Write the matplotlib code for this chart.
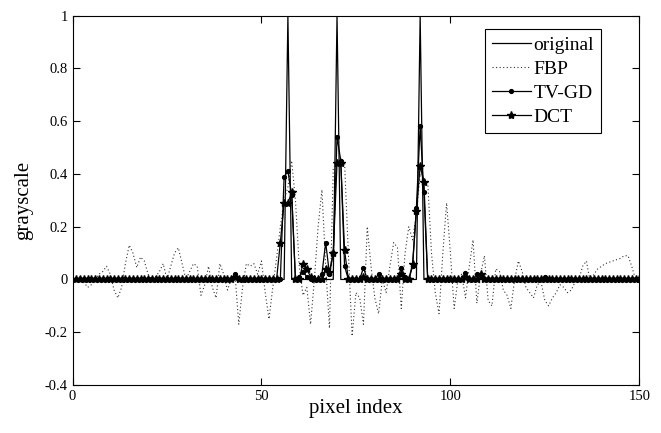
import matplotlib
matplotlib.use("Agg")
import matplotlib.pyplot as plt
import numpy as np

pixel_index = list(range(1, 151))

original = [
    0, 0, 0, 0, 0, 0, 0, 0, 0, 0,
    0, 0, 0, 0, 0, 0, 0, 0, 0, 0,
    0, 0, 0, 0, 0, 0, 0, 0, 0, 0,
    0, 0, 0, 0, 0, 0, 0, 0, 0, 0,
    0, 0, 0, 0, 0, 0, 0, 0, 0, 0,
    0, 0, 0, 0, 0, 0, 1, 0, 0, 0,
    0, 0, 0, 0, 0, 0, 0, 0, 0, 1,
    0, 0, 0, 0, 0, 0, 0, 0, 0, 0,
    0, 0, 0, 0, 0, 0, 0, 0, 0, 0,
    0, 1, 0, 0, 0, 0, 0, 0, 0, 0,
    0, 0, 0, 0, 0, 0, 0, 0, 0, 0,
    0, 0, 0, 0, 0, 0, 0, 0, 0, 0,
    0, 0, 0, 0, 0, 0, 0, 0, 0, 0,
    0, 0, 0, 0, 0, 0, 0, 0, 0, 0,
    0, 0, 0, 0, 0, 0, 0, 0, 0, 0,
]

fbp = [
    0.00, 0.01, -0.01, -0.03, -0.02, 0.00, 0.02, 0.03, 0.05, 0.02,
    -0.04, -0.07, -0.03, 0.06, 0.13, 0.10, 0.045, 0.085, 0.07, 0.02,
    0.00, 0.01, 0.03, 0.06, 0.00, 0.05, 0.10, 0.12, 0.06, 0.00,
    0.03, 0.06, 0.05, -0.06, -0.02, 0.05, -0.03, -0.07, 0.06, 0.02,
    -0.04, 0.00, 0.02, -0.17, -0.03, 0.06, 0.05, 0.06, 0.02, 0.07,
    -0.05, -0.15, -0.03, 0.08, 0.20, 0.30, 0.35, 0.45, 0.30, 0.05,
    -0.06, -0.03, -0.17, 0.00, 0.20, 0.34, 0.05, -0.185, 0.42, 0.45,
    0.46, 0.44, 0.10, -0.215, -0.05, -0.07, -0.17, 0.20, 0.05, -0.07,
    -0.13, 0.00, -0.05, 0.05, 0.14, 0.12, -0.11, 0.10, 0.20, 0.15,
    0.25, 0.40, 0.38, 0.37, 0.10, -0.05, -0.13, 0.10, 0.29, 0.10,
    -0.11, 0.00, 0.02, -0.07, 0.05, 0.15, -0.09, 0.02, 0.09, -0.08,
    -0.10, 0.04, 0.03, -0.04, -0.06, -0.11, 0.00, 0.07, 0.03, -0.03,
    -0.05, -0.07, -0.02, -0.01, -0.08, -0.10, -0.07, -0.05, -0.02, -0.03,
    -0.05, -0.04, -0.01, 0.00, 0.05, 0.07, -0.01, 0.02, 0.04, 0.05,
    0.06, 0.065, 0.07, 0.075, 0.08, 0.09, 0.09, 0.05, 0.00, 0.00,
]

tv_gd = [
    0.00, 0.00, 0.00, 0.00, 0.00, 0.00, 0.00, 0.00, 0.00, 0.00,
    0.00, 0.00, 0.00, 0.00, 0.00, 0.00, 0.00, 0.00, 0.00, 0.00,
    0.00, 0.00, 0.00, 0.00, 0.00, 0.00, 0.00, 0.00, 0.00, 0.00,
    0.00, 0.00, 0.00, 0.00, 0.00, 0.00, 0.00, 0.00, 0.00, 0.00,
    0.00, 0.00, 0.02, 0.00, 0.00, 0.00, 0.00, 0.00, 0.00, 0.00,
    0.00, 0.00, 0.00, 0.00, 0.00, 0.39, 0.41, 0.32, 0.00, 0.01,
    0.03, 0.01, 0.00, 0.00, 0.00, 0.02, 0.14, 0.02, 0.10, 0.54,
    0.45, 0.05, 0.00, 0.00, 0.00, 0.00, 0.045, 0.00, 0.00, 0.00,
    0.02, 0.00, 0.00, 0.00, 0.00, 0.00, 0.045, 0.01, 0.00, 0.05,
    0.27, 0.58, 0.33, 0.00, 0.00, 0.00, 0.00, 0.00, 0.00, 0.00,
    0.00, 0.00, 0.00, 0.025, 0.00, 0.00, 0.02, 0.015, 0.00, 0.00,
    0.00, 0.00, 0.00, 0.00, 0.00, 0.00, 0.00, 0.00, 0.00, 0.00,
    0.00, 0.00, 0.00, 0.00, 0.01, 0.00, 0.00, 0.00, 0.00, 0.00,
    0.00, 0.00, 0.00, 0.00, 0.00, 0.00, 0.00, 0.00, 0.00, 0.00,
    0.00, 0.00, 0.00, 0.00, 0.00, 0.00, 0.00, 0.00, 0.00, 0.00,
]

dct = [
    0.00, 0.00, 0.00, 0.00, 0.00, 0.00, 0.00, 0.00, 0.00, 0.00,
    0.00, 0.00, 0.00, 0.00, 0.00, 0.00, 0.00, 0.00, 0.00, 0.00,
    0.00, 0.00, 0.00, 0.00, 0.00, 0.00, 0.00, 0.00, 0.00, 0.00,
    0.00, 0.00, 0.00, 0.00, 0.00, 0.00, 0.00, 0.00, 0.00, 0.00,
    0.00, 0.00, 0.01, 0.00, 0.00, 0.00, 0.00, 0.00, 0.00, 0.00,
    0.00, 0.00, 0.00, 0.00, 0.14, 0.29, 0.29, 0.33, 0.00, 0.00,
    0.06, 0.04, 0.01, 0.00, 0.00, 0.00, 0.04, 0.03, 0.10, 0.44,
    0.44, 0.11, 0.00, 0.00, 0.00, 0.00, 0.01, 0.00, 0.00, 0.00,
    0.00, 0.00, 0.00, 0.00, 0.00, 0.00, 0.02, 0.00, 0.00, 0.06,
    0.26, 0.43, 0.37, 0.00, 0.00, 0.00, 0.00, 0.00, 0.00, 0.00,
    0.00, 0.00, 0.00, 0.01, 0.00, 0.00, 0.00, 0.02, 0.00, 0.00,
    0.00, 0.00, 0.00, 0.00, 0.00, 0.00, 0.00, 0.00, 0.00, 0.00,
    0.00, 0.00, 0.00, 0.00, 0.00, 0.00, 0.00, 0.00, 0.00, 0.00,
    0.00, 0.00, 0.00, 0.00, 0.00, 0.00, 0.00, 0.00, 0.00, 0.00,
    0.00, 0.00, 0.00, 0.00, 0.00, 0.00, 0.00, 0.00, 0.00, 0.00,
]

x_ticks = [0, 50, 100, 150]
y_ticks = [-0.4, -0.2, 0, 0.2, 0.4, 0.6, 0.8, 1]
y_tick_labels = ["-0.4", "-0.2", "0", "0.2", "0.4", "0.6", "0.8", "1"]

plt.rcParams['font.family'] = ['Liberation Serif', 'DejaVu Serif']

fig = plt.figure(figsize=(6.61, 4.33), dpi=100)
ax = fig.add_axes([0.1097, 0.1109, 0.8575, 0.853])

ax.plot(pixel_index, original, color='black', linewidth=0.9, label='original')
ax.plot(pixel_index, fbp, color='#333333', linewidth=0.8, linestyle=(0, (1, 2.2)), label='FBP')
ax.plot(pixel_index, tv_gd, color='black', linewidth=0.9, marker='.', markersize=5.5, label='TV-GD')
ax.plot(pixel_index, dct, color='black', linewidth=0.9, marker='*', markersize=6, label='DCT')

ax.set_xlim(0, 150)
ax.set_ylim(-0.4, 1)
ax.set_xticks(x_ticks)
ax.set_xticklabels([str(v) for v in x_ticks])
ax.set_yticks(y_ticks)
ax.set_yticklabels(y_tick_labels)
ax.tick_params(direction='in', top=True, right=True, labelsize=10.5, length=5, width=0.8)
for s in ax.spines.values():
    s.set_linewidth(0.8)

ax.set_xlabel('pixel index', fontsize=15)
ax.set_ylabel('grayscale', fontsize=15)
ax.xaxis.set_label_coords(0.5, -0.037)
ax.yaxis.set_label_coords(-0.07, 0.5)

leg = ax.legend(loc='upper right', bbox_to_anchor=(0.9324, 0.9632), fontsize=14,
                fancybox=False, edgecolor='black', framealpha=1,
                handlelength=2.0, handletextpad=0.15, labelspacing=0.33,
                borderpad=0.35, borderaxespad=0.0)
leg.get_frame().set_linewidth(0.8)

fig.savefig('out.png', dpi=100)
